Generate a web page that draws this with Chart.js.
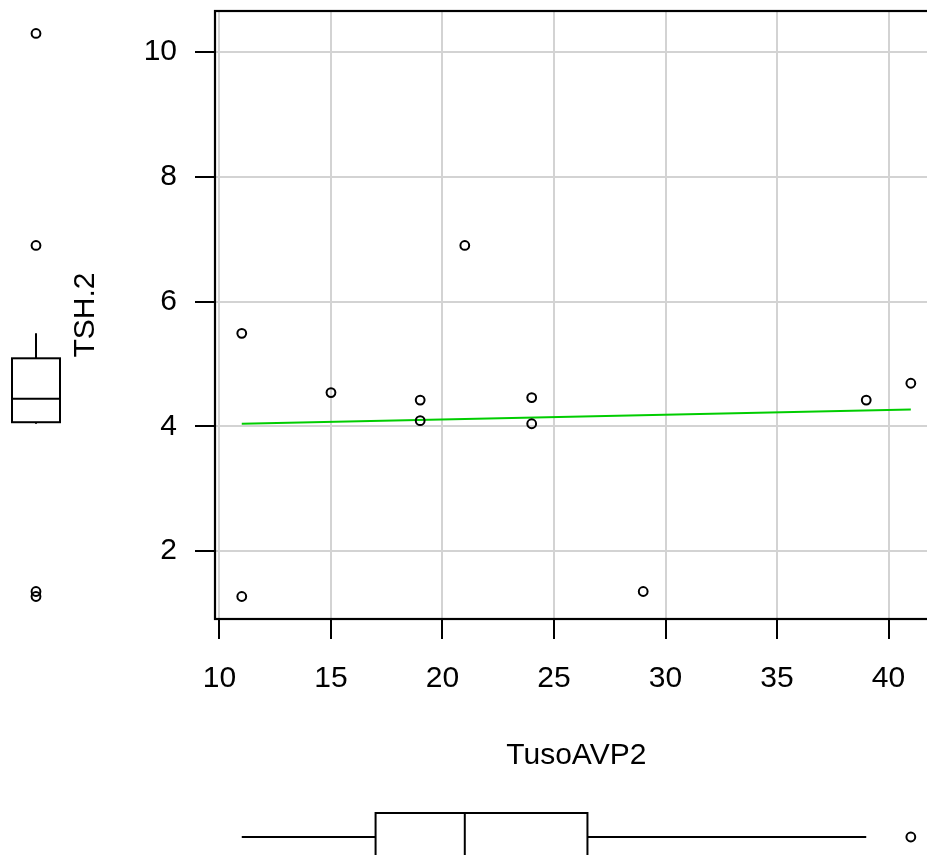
<!DOCTYPE html>
<html>
<head>
<meta charset="utf-8">
<script src="https://cdn.jsdelivr.net/npm/chart.js@4.4.0/dist/chart.umd.min.js"></script>
<style>
    html, body { margin: 0; padding: 0; background: #fff; overflow: hidden; }
    #wrap { width: 944px; height: 855px; }
</style>
</head>
<body>
<div id="wrap"><canvas id="scatterChart" width="944" height="855"></canvas></div>
<script>
// TusoAVP2 vs TSH.2 (scatter, fitted line, marginal boxplots)
const tusoAVP2 = [11, 11, 15, 19, 19, 21, 24, 24, 29, 39, 41];
const tsh2 = [5.49, 1.27, 4.54, 4.42, 4.09, 6.9, 4.46, 4.04, 1.35, 4.42, 4.69];

// fitted line, read at both ends
const fitX = [11, 41];
const fitY = [4.04, 4.27];

const xTicks = [10, 15, 20, 25, 30, 35, 40];
const yTicks = [2, 4, 6, 8, 10];

// boxplots: lower whisker, Q1, median, Q3, upper whisker
const xBoxStats = [11, 17, 21, 26.5, 39];
const xOutliers = [41];
const yBoxStats = [4.04, 4.065, 4.44, 5.09, 5.49];
const yOutliers = [10.3, 6.9, 1.27, 1.35];

const fontFamily = "'Liberation Sans', Arial, sans-serif";

function drawLine(ctx, x1, y1, x2, y2) {
    ctx.beginPath();
    ctx.moveTo(x1, y1);
    ctx.lineTo(x2, y2);
    ctx.stroke();
}

function drawRing(ctx, x, y) {
    ctx.beginPath();
    ctx.arc(x, y, 4.4, 0, Math.PI * 2);
    ctx.stroke();
}

// frame plus the two marginal boxplots
const marginBoxes = {
    id: 'marginBoxes',
    afterDraw(chart) {
        const ctx = chart.ctx;
        const xs = chart.scales.x;
        const ys = chart.scales.y;
        const area = chart.chartArea;

        ctx.save();
        ctx.strokeStyle = '#000';
        ctx.lineWidth = 2.2;
        ctx.strokeRect(area.left, area.top, area.right - area.left, area.bottom - area.top);

        // left: TSH.2
        const cx = 36, hw = 24;
        const [yLo, yQ1, yMed, yQ3, yHi] = yBoxStats.map(v => ys.getPixelForValue(v));
        ctx.lineWidth = 2;
        ctx.strokeRect(cx - hw, yQ3, hw * 2, yQ1 - yQ3);
        drawLine(ctx, cx - hw, yMed, cx + hw, yMed);
        drawLine(ctx, cx, yQ3, cx, yHi);
        drawLine(ctx, cx, yQ1, cx, yLo);
        ctx.lineWidth = 2;
        yOutliers.forEach(v => drawRing(ctx, cx, ys.getPixelForValue(v)));

        // bottom: TusoAVP2
        const cy = 837, hh = 24;
        ctx.lineWidth = 2;
        const [xLo, xQ1, xMed, xQ3, xHi] = xBoxStats.map(v => xs.getPixelForValue(v));
        ctx.strokeRect(xQ1, cy - hh, xQ3 - xQ1, hh * 2);
        drawLine(ctx, xMed, cy - hh, xMed, cy + hh);
        drawLine(ctx, xLo, cy, xQ1, cy);
        drawLine(ctx, xQ3, cy, xHi, cy);
        xOutliers.forEach(v => drawRing(ctx, xs.getPixelForValue(v), cy));
        ctx.restore();
    }
};

const gridOpts = {color: '#d3d3d3', lineWidth: 2, tickColor: '#000', tickWidth: 2, tickLength: 20};

new Chart(document.getElementById('scatterChart'), {
    type: 'scatter',
    data: {
        datasets: [{
            type: 'line',
            label: 'fit',
            data: fitX.map((x, i) => ({x: x, y: fitY[i]})),
            borderColor: '#00cd00',
            borderWidth: 2,
            pointRadius: 0,
            fill: false,
            order: 2
        }, {
            label: 'TSH.2',
            data: tusoAVP2.map((x, i) => ({x: x, y: tsh2[i]})),
            pointRadius: 4.4,
            pointBorderWidth: 2,
            borderColor: '#000',
            backgroundColor: 'rgba(0,0,0,0)',
            order: 1
        }]
    },
    options: {
        responsive: false,
        animation: false,
        layout: {padding: {top: 11, left: 0, right: 0, bottom: 0}},
        plugins: {legend: {display: false}, tooltip: {enabled: false}},
        scales: {
            x: {
                type: 'linear',
                min: 9.8,
                max: 42.2,
                afterBuildTicks: s => { s.ticks = xTicks.map(v => ({value: v})); },
                afterFit: s => { s.height = 236; s.paddingLeft = 0; s.paddingRight = 0; },
                grid: gridOpts,
                border: {display: true, color: '#000', width: 2},
                ticks: {color: '#000', font: {family: fontFamily, size: 30}, padding: 22, maxRotation: 0, autoSkip: false},
                title: {display: true, text: 'TusoAVP2', color: '#000', font: {family: fontFamily, size: 30}, padding: {top: 0, bottom: 81}}
            },
            y: {
                type: 'linear',
                min: 0.909,
                max: 10.66,
                afterBuildTicks: s => { s.ticks = yTicks.map(v => ({value: v})); },
                afterFit: s => { s.width = 215; s.paddingTop = 0; s.paddingBottom = 0; },
                grid: gridOpts,
                border: {display: true, color: '#000', width: 2},
                ticks: {color: '#000', font: {family: fontFamily, size: 30}, padding: 18, autoSkip: false},
                title: {display: true, text: 'TSH.2', color: '#000', font: {family: fontFamily, size: 30}, padding: {top: 68, bottom: 0}}
            }
        }
    },
    plugins: [marginBoxes]
});
</script>
</body>
</html>
